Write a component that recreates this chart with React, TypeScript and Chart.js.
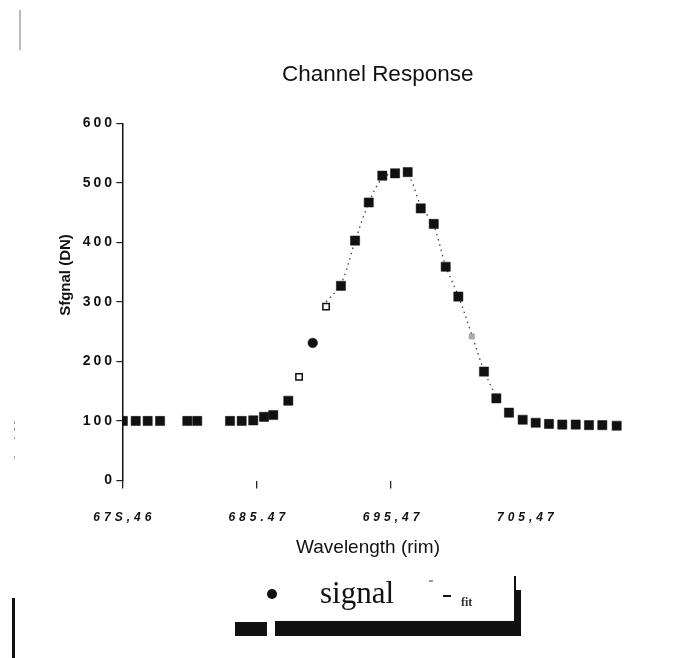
import React, { useEffect, useRef } from "react";
import { Chart, registerables } from "chart.js";

Chart.register(...registerables);

// ---- data ----
const WAVELENGTHS = [
  675.5, 676.46, 677.35, 678.27, 680.3, 681.04, 683.48, 684.35, 685.21, 686.01,
  686.7, 687.82, 688.62, 689.64, 690.63, 691.74, 692.79, 693.81, 694.82, 695.77,
  696.71, 697.68, 698.65, 699.54, 700.48, 701.48, 702.39, 703.31, 704.25, 705.27,
  706.24, 707.23, 708.22, 709.22, 710.21, 711.2, 712.27,
];
const SIGNAL = [
  100, 100, 100, 100, 100, 100, 100, 100, 101, 107,
  110, 134, 174, 231, 292, 327, 403, 467, 512, 516,
  518, 457, 431, 359, 309, 242, 183, 138, 114, 102,
  97, 95, 94, 94, 93, 93, 92,
];
const FIT_WAVELENGTHS = [
  690.63, 691.74, 692.79, 693.81, 694.82, 695.77, 696.71, 697.68, 698.65, 699.54,
  700.48, 701.48, 702.39, 703.31,
];
const FIT = [300, 330, 402, 466, 508, 516, 514, 462, 428, 360, 310, 245, 185, 140];

const X_TICKS = [675.46, 685.47, 695.47, 705.47];
const X_TICK_LABELS = ["67S,46", "685.47", "695,47", "705,47"];
const X_MIN = 675.46;
const X_MAX = 713.5;
const Y_MIN = 0;
const Y_MAX = 600;
const Y_STEP = 100;

const TITLE = "Channel Response";
const X_TITLE = "Wavelength (rim)";
const Y_TITLE = "Sfgnal (DN)";
const LEGEND_SIGNAL = "signal";
const LEGEND_FIT = "fit";

// ---- marker styles (by point index) ----
const MARKER_KIND: Record<number, string> = { 12: "hollow", 13: "dot", 14: "hollowTall", 25: "gray" };

const SANS = '"Liberation Sans", Arial, Helvetica, sans-serif';
const SERIF = '"Liberation Serif", "Times New Roman", serif';

const textPlugin = {
  id: "scanText",
  afterDraw(chart: any) {
    const ctx = chart.ctx as CanvasRenderingContext2D;
    const xs = chart.scales.x;
    const ys = chart.scales.y;
    ctx.save();
    ctx.fillStyle = "#111";
    // x tick labels
    (ctx as any).letterSpacing = "4px";
    ctx.font = `italic bold 12px ${SANS}`;
    ctx.textAlign = "center";
    ctx.textBaseline = "middle";
    X_TICKS.forEach((v, i) => {
      ctx.fillText(X_TICK_LABELS[i], xs.getPixelForValue(v) + 2, 518);
    });
    // y tick labels
    (ctx as any).letterSpacing = "3px";
    ctx.font = `bold 14px ${SANS}`;
    ctx.textAlign = "right";
    ys.ticks.forEach((t: any) => {
      ctx.fillText(String(t.value), 115, ys.getPixelForValue(t.value));
    });
    (ctx as any).letterSpacing = "0px";
    // x title
    ctx.font = `19px ${SANS}`;
    ctx.textAlign = "center";
    ctx.fillText(X_TITLE, 368, 548);
    // y title
    ctx.translate(66, 275);
    ctx.rotate(-Math.PI / 2);
    ctx.font = `bold 15px ${SANS}`;
    ctx.fillText(Y_TITLE, 0, 0);
    ctx.restore();
  },
};

export default function App() {
  const ref = useRef<HTMLCanvasElement | null>(null);

  useEffect(() => {
    if (!ref.current) return;
    const kind = (i: number) => MARKER_KIND[i] || "filled";
    const chart = new Chart(ref.current, {
      type: "scatter",
      data: {
        datasets: [
          {
            label: LEGEND_SIGNAL,
            data: WAVELENGTHS.map((x, i) => ({ x, y: SIGNAL[i] })),
            showLine: false,
            pointStyle: (c: any) => (kind(c.dataIndex) === "dot" ? "circle" : "rect"),
            pointRadius: (c: any) => {
              const k = kind(c.dataIndex);
              if (k === "hollow") return 4.5;
              if (k === "dot") return 4.8;
              if (k === "hollowTall") return 4.5;
              if (k === "gray") return 3.8;
              return 6.5;
            },
            backgroundColor: (c: any) => {
              const k = kind(c.dataIndex);
              if (k === "hollow" || k === "hollowTall") return "#fff";
              if (k === "gray") return "#aaa";
              return "#111";
            },
            borderColor: (c: any) => (kind(c.dataIndex) === "gray" ? "#999" : "#111"),
            borderWidth: (c: any) => {
              const k = kind(c.dataIndex);
              if (k === "hollow" || k === "hollowTall") return 1.5;
              return 0.5;
            },
            order: 1,
          } as any,
          {
            label: LEGEND_FIT,
            data: FIT_WAVELENGTHS.map((x, i) => ({ x, y: FIT[i] })),
            showLine: true,
            pointRadius: 0,
            borderColor: "#333",
            borderWidth: 1.2,
            borderDash: [1.5, 4],
            tension: 0.35,
            order: 2,
          } as any,
        ],
      },
      options: {
        animation: false,
        responsive: false,
        devicePixelRatio: 1,
        layout: { padding: { left: 0, right: 40.8, top: 0, bottom: 0 } },
        plugins: {
          legend: { display: false },
          tooltip: { enabled: false },
          title: {
            display: true,
            text: TITLE,
            fullSize: false,
            color: "#111",
            font: { family: SANS, size: 22.5, weight: "normal" as any, lineHeight: 1.2 },
            padding: { top: 61.5, bottom: 34.8 },
          },
        },
        scales: {
          x: {
            type: "linear",
            min: X_MIN,
            max: X_MAX,
            afterBuildTicks: (s: any) => {
              s.ticks = X_TICKS.map((v) => ({ value: v }));
            },
            afterFit: (s: any) => {
              s.height = 658 - 480.5;
            },
            ticks: { display: false },
            border: { display: false },
            grid: {
              drawOnChartArea: false,
              drawTicks: true,
              tickLength: 8,
              lineWidth: 1.3,
              color: (c: any) => (c.index === 3 ? "rgba(0,0,0,0)" : "#222"),
            },
          },
          y: {
            type: "linear",
            min: Y_MIN,
            max: Y_MAX,
            ticks: { display: false, stepSize: Y_STEP },
            afterFit: (s: any) => {
              s.width = 122.3;
            },
            border: { display: true, color: "#111", width: 1.5 },
            grid: {
              drawOnChartArea: false,
              drawTicks: true,
              tickLength: 6,
              lineWidth: 1.2,
              color: "#222",
            },
          },
        },
      },
      plugins: [textPlugin],
    });
    return () => chart.destroy();
  }, []);

  const abs = (s: React.CSSProperties): React.CSSProperties => ({ position: "absolute", ...s });

  return (
    <div style={{ position: "fixed", left: 0, top: 0, width: 674, height: 658, background: "#fff", overflow: "hidden" }}>
      <canvas ref={ref} width={674} height={658} style={{ position: "absolute", left: 0, top: 0 }} />
      {/* legend */}
      <div style={abs({ left: 267, top: 588.5, width: 10, height: 10, borderRadius: "50%", background: "#111" })} />
      <div style={abs({ left: 320, top: 577, fontFamily: SERIF, fontSize: 31, lineHeight: "31px", color: "#111", whiteSpace: "nowrap" })}>
        {LEGEND_SIGNAL}
      </div>
      <div style={abs({ left: 429, top: 580, width: 4, height: 1.5, background: "#999" })} />
      <div style={abs({ left: 443, top: 595, width: 8, height: 2, background: "#111" })} />
      <div style={abs({ left: 461, top: 596, fontFamily: SERIF, fontSize: 12, lineHeight: "12px", fontWeight: "bold", color: "#333" })}>
        {LEGEND_FIT}
      </div>
      {/* scan artefacts */}
      <div style={abs({ left: 235, top: 622, width: 32, height: 14, background: "#111" })} />
      <div style={abs({ left: 275, top: 621, width: 245, height: 15, background: "#111" })} />
      <div style={abs({ left: 514, top: 576, width: 2, height: 50, background: "#111" })} />
      <div style={abs({ left: 516, top: 590, width: 5, height: 46, background: "#111" })} />
      <div style={abs({ left: 19, top: 10, width: 2, height: 40, background: "#bbb" })} />
      <div style={abs({ left: 12, top: 598, width: 3, height: 60, background: "#111" })} />
      <div style={abs({ left: 14, top: 421, width: 1, height: 3, background: "#999" })} />
      <div style={abs({ left: 14, top: 428, width: 1, height: 3, background: "#999" })} />
      <div style={abs({ left: 14, top: 437, width: 1, height: 2, background: "#aaa" })} />
      <div style={abs({ left: 14, top: 456, width: 1, height: 3, background: "#aaa" })} />
    </div>
  );
}
